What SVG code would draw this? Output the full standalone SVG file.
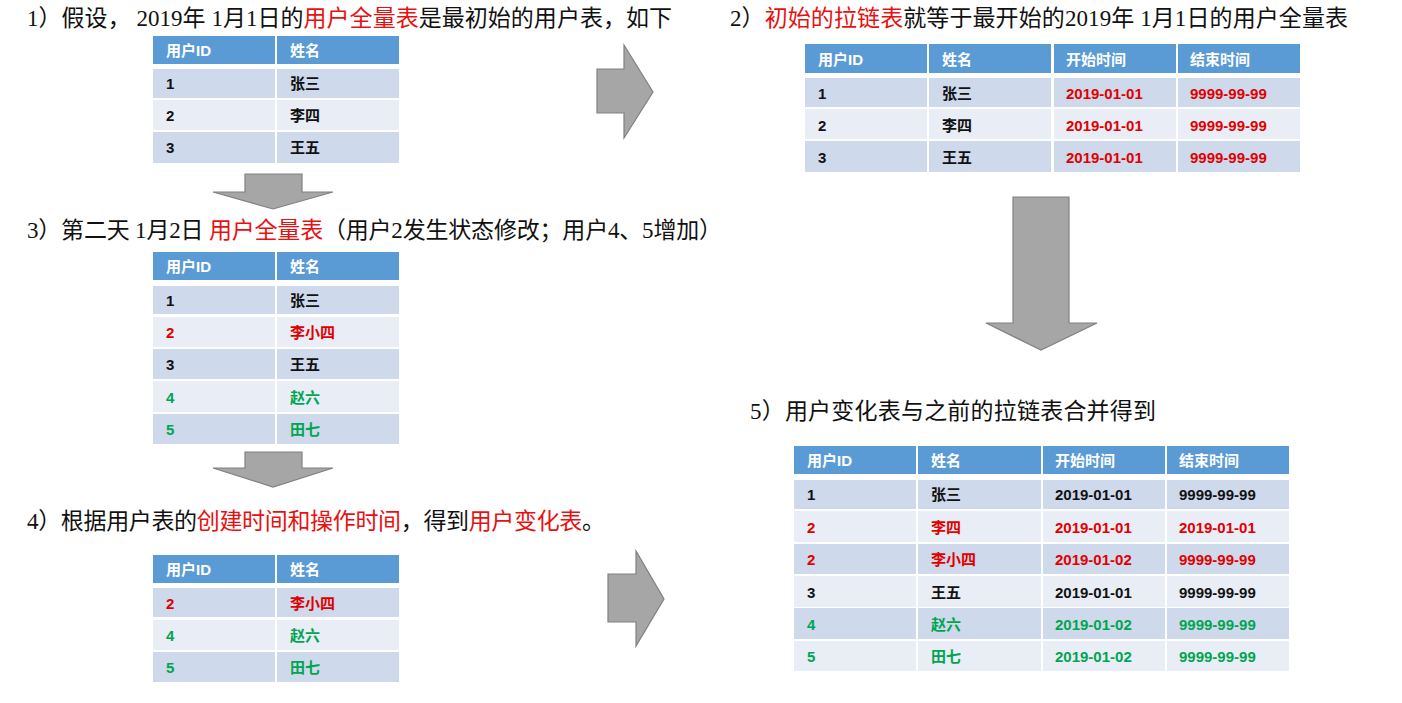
<svg xmlns="http://www.w3.org/2000/svg" width="1402" height="703" viewBox="0 0 1402 703">
<style>
.title{font-family:"Liberation Serif","Noto Sans CJK SC",serif;font-size:23px;fill:#111}
.red{fill:#E81010}
.hd{fill:#5B9BD5}
.odd{fill:#CFD9EC}
.even{fill:#E8EDF6}
.ht{font-family:"Liberation Sans","Noto Sans CJK SC",sans-serif;font-size:15px;font-weight:bold;fill:#fff}
.ct{font-family:"Liberation Sans","Noto Sans CJK SC",sans-serif;font-size:15px;font-weight:bold;fill:#111}
.r{fill:#E00000}
.g{fill:#00A550}
.arrow{fill:#A6A6A6;stroke:#808080;stroke-width:1.2}
</style>
<rect width="1402" height="703" fill="#fff"/>

<g id="titles">
<text class="title" x="27" y="26" textLength="645" lengthAdjust="spacing">1）假设， 2019年 1月1日的<tspan class="red">用户全量表</tspan>是最初始的用户表，如下</text>
<text class="title" x="730" y="26" textLength="618" lengthAdjust="spacing">2）<tspan class="red">初始的拉链表</tspan>就等于最开始的2019年 1月1日的用户全量表</text>
<text class="title" x="27" y="238" textLength="695" lengthAdjust="spacing">3）第二天 1月2日 <tspan class="red">用户全量表</tspan>（用户2发生状态修改；用户4、5增加）</text>
<text class="title" x="27" y="529" textLength="578" lengthAdjust="spacing">4）根据用户表的<tspan class="red">创建时间和操作时间</tspan>，得到<tspan class="red">用户变化表</tspan>。</text>
<text class="title" x="750" y="419" textLength="406" lengthAdjust="spacing">5）用户变化表与之前的拉链表合并得到</text>
</g>

<g id="table1">
<rect class="hd" x="153" y="36" width="122" height="28"/><rect class="hd" x="277" y="36" width="122" height="28"/>
<rect class="odd" x="153" y="69" width="122" height="29"/><rect class="odd" x="277" y="69" width="122" height="29"/>
<rect class="even" x="153" y="100" width="122" height="30"/><rect class="even" x="277" y="100" width="122" height="30"/>
<rect class="odd" x="153" y="132" width="122" height="31"/><rect class="odd" x="277" y="132" width="122" height="31"/>
<text class="ht" x="166" y="56">用户ID</text><text class="ht" x="290" y="56">姓名</text>
<text class="ct" x="166" y="89">1</text><text class="ct" x="290" y="89">张三</text>
<text class="ct" x="166" y="121">2</text><text class="ct" x="290" y="121">李四</text>
<text class="ct" x="166" y="153">3</text><text class="ct" x="290" y="153">王五</text>
</g>

<g id="table2">
<rect class="hd" x="805" y="44" width="122" height="29"/><rect class="hd" x="929" y="44" width="122" height="29"/><rect class="hd" x="1054" y="44" width="122" height="29"/><rect class="hd" x="1178" y="44" width="122" height="29"/>
<rect class="odd" x="805" y="78" width="122" height="29"/><rect class="odd" x="929" y="78" width="122" height="29"/><rect class="odd" x="1054" y="78" width="122" height="29"/><rect class="odd" x="1178" y="78" width="122" height="29"/>
<rect class="even" x="805" y="109" width="122" height="30"/><rect class="even" x="929" y="109" width="122" height="30"/><rect class="even" x="1054" y="109" width="122" height="30"/><rect class="even" x="1178" y="109" width="122" height="30"/>
<rect class="odd" x="805" y="141" width="122" height="31"/><rect class="odd" x="929" y="141" width="122" height="31"/><rect class="odd" x="1054" y="141" width="122" height="31"/><rect class="odd" x="1178" y="141" width="122" height="31"/>
<text class="ht" x="818" y="65">用户ID</text><text class="ht" x="942" y="65">姓名</text><text class="ht" x="1066" y="65">开始时间</text><text class="ht" x="1190" y="65">结束时间</text>
<text class="ct" x="818" y="99">1</text><text class="ct" x="942" y="99">张三</text><text class="ct r" x="1066" y="99">2019-01-01</text><text class="ct r" x="1190" y="99">9999-99-99</text>
<text class="ct" x="818" y="131">2</text><text class="ct" x="942" y="131">李四</text><text class="ct r" x="1066" y="131">2019-01-01</text><text class="ct r" x="1190" y="131">9999-99-99</text>
<text class="ct" x="818" y="163">3</text><text class="ct" x="942" y="163">王五</text><text class="ct r" x="1066" y="163">2019-01-01</text><text class="ct r" x="1190" y="163">9999-99-99</text>
</g>

<g id="table3">
<rect class="hd" x="153" y="252" width="122" height="28"/><rect class="hd" x="277" y="252" width="122" height="28"/>
<rect class="odd" x="153" y="286" width="122" height="28"/><rect class="odd" x="277" y="286" width="122" height="28"/>
<rect class="even" x="153" y="317" width="122" height="30"/><rect class="even" x="277" y="317" width="122" height="30"/>
<rect class="odd" x="153" y="349" width="122" height="30"/><rect class="odd" x="277" y="349" width="122" height="30"/>
<rect class="even" x="153" y="381" width="122" height="31"/><rect class="even" x="277" y="381" width="122" height="31"/>
<rect class="odd" x="153" y="414" width="122" height="30"/><rect class="odd" x="277" y="414" width="122" height="30"/>
<text class="ht" x="166" y="272">用户ID</text><text class="ht" x="290" y="272">姓名</text>
<text class="ct" x="166" y="306">1</text><text class="ct" x="290" y="306">张三</text>
<text class="ct r" x="166" y="338">2</text><text class="ct r" x="290" y="338">李小四</text>
<text class="ct" x="166" y="370">3</text><text class="ct" x="290" y="370">王五</text>
<text class="ct g" x="166" y="403">4</text><text class="ct g" x="290" y="403">赵六</text>
<text class="ct g" x="166" y="435">5</text><text class="ct g" x="290" y="435">田七</text>
</g>

<g id="table4">
<rect class="hd" x="153" y="555" width="122" height="28"/><rect class="hd" x="277" y="555" width="122" height="28"/>
<rect class="odd" x="153" y="588" width="122" height="29"/><rect class="odd" x="277" y="588" width="122" height="29"/>
<rect class="even" x="153" y="620" width="122" height="30"/><rect class="even" x="277" y="620" width="122" height="30"/>
<rect class="odd" x="153" y="652" width="122" height="30"/><rect class="odd" x="277" y="652" width="122" height="30"/>
<text class="ht" x="166" y="575">用户ID</text><text class="ht" x="290" y="575">姓名</text>
<text class="ct r" x="166" y="609">2</text><text class="ct r" x="290" y="609">李小四</text>
<text class="ct g" x="166" y="641">4</text><text class="ct g" x="290" y="641">赵六</text>
<text class="ct g" x="166" y="673">5</text><text class="ct g" x="290" y="673">田七</text>
</g>

<g id="table5">
<rect class="hd" x="794" y="446" width="122" height="28"/><rect class="hd" x="918" y="446" width="123" height="28"/><rect class="hd" x="1043" y="446" width="122" height="28"/><rect class="hd" x="1167" y="446" width="122" height="28"/>
<rect class="odd" x="794" y="480" width="122" height="29"/><rect class="odd" x="918" y="480" width="123" height="29"/><rect class="odd" x="1043" y="480" width="122" height="29"/><rect class="odd" x="1167" y="480" width="122" height="29"/>
<rect class="even" x="794" y="511" width="122" height="31"/><rect class="even" x="918" y="511" width="123" height="31"/><rect class="even" x="1043" y="511" width="122" height="31"/><rect class="even" x="1167" y="511" width="122" height="31"/>
<rect class="odd" x="794" y="544" width="122" height="30"/><rect class="odd" x="918" y="544" width="123" height="30"/><rect class="odd" x="1043" y="544" width="122" height="30"/><rect class="odd" x="1167" y="544" width="122" height="30"/>
<rect class="even" x="794" y="576" width="122" height="31"/><rect class="even" x="918" y="576" width="123" height="31"/><rect class="even" x="1043" y="576" width="122" height="31"/><rect class="even" x="1167" y="576" width="122" height="31"/>
<rect class="odd" x="794" y="608" width="122" height="31"/><rect class="odd" x="918" y="608" width="123" height="31"/><rect class="odd" x="1043" y="608" width="122" height="31"/><rect class="odd" x="1167" y="608" width="122" height="31"/>
<rect class="even" x="794" y="641" width="122" height="30"/><rect class="even" x="918" y="641" width="123" height="30"/><rect class="even" x="1043" y="641" width="122" height="30"/><rect class="even" x="1167" y="641" width="122" height="30"/>
<text class="ht" x="807" y="466">用户ID</text><text class="ht" x="931" y="466">姓名</text><text class="ht" x="1055" y="466">开始时间</text><text class="ht" x="1179" y="466">结束时间</text>
<text class="ct" x="807" y="500">1</text><text class="ct" x="931" y="500">张三</text><text class="ct" x="1055" y="500">2019-01-01</text><text class="ct" x="1179" y="500">9999-99-99</text>
<text class="ct r" x="807" y="533">2</text><text class="ct r" x="931" y="533">李四</text><text class="ct r" x="1055" y="533">2019-01-01</text><text class="ct r" x="1179" y="533">2019-01-01</text>
<text class="ct r" x="807" y="565">2</text><text class="ct r" x="931" y="565">李小四</text><text class="ct r" x="1055" y="565">2019-01-02</text><text class="ct r" x="1179" y="565">9999-99-99</text>
<text class="ct" x="807" y="598">3</text><text class="ct" x="931" y="598">王五</text><text class="ct" x="1055" y="598">2019-01-01</text><text class="ct" x="1179" y="598">9999-99-99</text>
<text class="ct g" x="807" y="630">4</text><text class="ct g" x="931" y="630">赵六</text><text class="ct g" x="1055" y="630">2019-01-02</text><text class="ct g" x="1179" y="630">9999-99-99</text>
<text class="ct g" x="807" y="662">5</text><text class="ct g" x="931" y="662">田七</text><text class="ct g" x="1055" y="662">2019-01-02</text><text class="ct g" x="1179" y="662">9999-99-99</text>
</g>

<g id="connectors">
<polygon class="arrow" points="597,69 624,69 624,45 653,92 624,138 624,113 597,113"/>
<polygon class="arrow" points="245,174 302,174 302,192 333,192 273,209 213,192 245,192"/>
<polygon class="arrow" points="245,452 302,452 302,468 333,468 273,487 213,468 245,468"/>
<polygon class="arrow" points="1013,197 1069,197 1069,323 1097,323 1041,350 986,323 1013,323"/>
<polygon class="arrow" points="608,574 636,574 636,551 664,599 636,646 636,622 608,622"/>
</g>
</svg>
